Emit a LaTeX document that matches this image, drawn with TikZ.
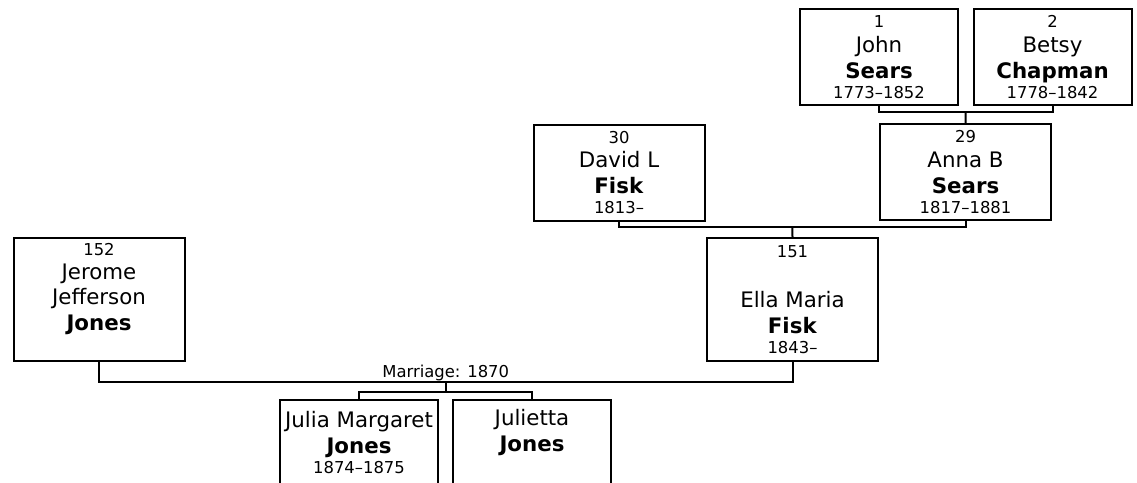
\documentclass[tikz,border=0pt]{standalone}
\usepackage{fontspec}
\setmainfont{DejaVu Sans}
\usetikzlibrary{positioning,calc}
\newcommand{\sm}[1]{{\fontsize{12.3}{14}\selectfont #1}}

\begin{document}
\begin{tikzpicture}[
  x=0.75pt, y=-0.75pt,
  person/.style={rectangle, draw, line width=1.5pt, minimum width=128.25pt,
                 minimum height=72pt, inner sep=0pt, align=center,
                 font=\fontsize{16}{18.5}\selectfont},
  narrow/.style={minimum width=118.5pt},
  tall/.style={minimum height=92.25pt},
  child/.style={minimum height=64.5pt},
  link/.style={line width=1.5pt},
  event/.style={font=\fontsize{12.3}{14}\selectfont, above, inner sep=0.5pt}
]
  \useasboundingbox (0,0) rectangle (1137,482);
  \clip (0,0) rectangle (1137,482);

  % Grandparents
  \node[person, narrow] (john)  at (879,57)    {\sm{1}\\John\\[1pt]\textbf{Sears}\\[-3.5pt]\sm{1773–1852}};
  \node[person, narrow] (betsy) at (1052.5,57) {\sm{2}\\Betsy\\[1pt]\textbf{Chapman}\\[-3.5pt]\sm{1778–1842}};

  % Parents
  \node[person] (david) at (619,172.5)  {\sm{30}\\David L\\[1pt]\textbf{Fisk}\\[-3.5pt]\sm{1813–}};
  \node[person] (anna)  at (965.5,172)  {\sm{29}\\Anna B\\[1pt]\textbf{Sears}\\[-3.5pt]\sm{1817–1881}};

  % Couple
  \node[person, tall] (jerome) at (99,299.5)   {\sm{152}\\Jerome\\Jefferson\\[1pt]\textbf{Jones}\\[-3.5pt]\sm{\strut}};
  \node[person, tall] (ella)   at (792.5,299.5) {\sm{151}\\\strut\\Ella Maria\\[1pt]\textbf{Fisk}\\[-3.5pt]\sm{1843–}};

  % Children
  \node[person, narrow, child, anchor=north] (julia)    at (359,399) {Julia Margaret\\[1pt]\textbf{Jones}\\[-3.5pt]\sm{1874–1875}};
  \node[person, narrow, child, anchor=north] (julietta) at (532,399) {Julietta\\[1pt]\textbf{Jones}\\[-3.5pt]\sm{\strut}};

  % Family lines
  \coordinate (m1) at ($(john.south)!.5!(betsy.south)+(0,6)$);
  \draw[link] (john.south) |- (m1) -| (betsy.south);
  \draw[link] (m1) -- (anna.north);

  \coordinate (m2) at ($(david.south)!.5!(anna.south)+(0,6)$);
  \draw[link] (david.south) |- (m2) -| (anna.south);
  \draw[link] (m2) -- (ella.north);

  \coordinate (m3) at ($(jerome.south)!.5!(ella.south)+(0,20)$);
  \draw[link] (jerome.south) |- (m3) -| (ella.south);
  \node[event] (marr) at (m3) {Marriage: 1870};
  \coordinate (m4) at ($(m3)+(0,10)$);
  \draw[link] (m3) -- (m4);
  \draw[link] (julia.north) |- (m4) -| (julietta.north);
\end{tikzpicture}
\end{document}
